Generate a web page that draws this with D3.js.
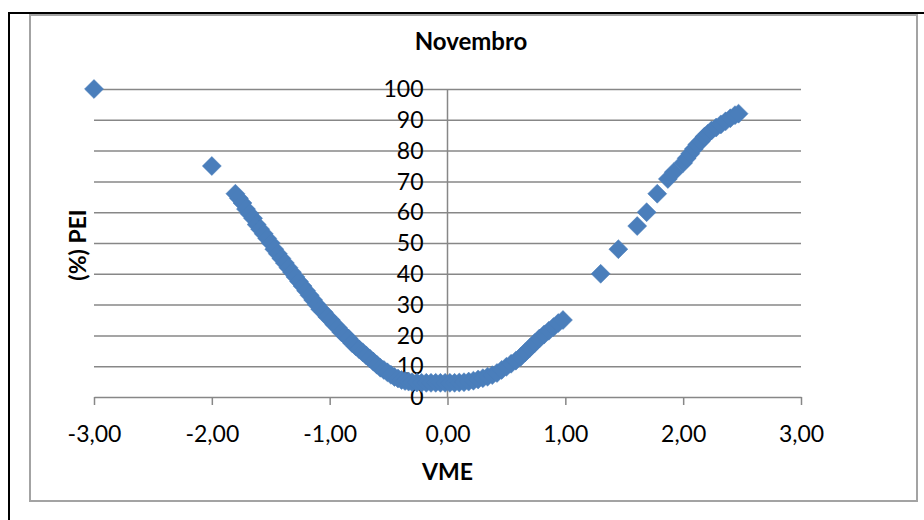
<!DOCTYPE html>
<html>
<head>
<meta charset="utf-8">
<script src="https://cdn.jsdelivr.net/npm/d3@7"></script>
<style>
  body { margin: 0; background: #fff; }
  text { font-family: Lato, "Open Sans", sans-serif; fill: #000; }
</style>
</head>
<body>
<div id="chart"></div>
<script>
// Data (VME on x, (%) PEI on y)
const vme = [
  -3.00, -2.00,
  -1.80, -1.77, -1.74, -1.71, -1.68, -1.65, -1.62, -1.59, -1.56, -1.53, -1.50,
  -1.47, -1.44, -1.41, -1.38, -1.35, -1.32, -1.29, -1.26, -1.23, -1.20, -1.17,
  -1.14, -1.11, -1.08, -1.05, -1.02, -0.99, -0.96, -0.93, -0.90, -0.87, -0.84,
  -0.81, -0.78, -0.75, -0.72, -0.69, -0.66, -0.63, -0.60, -0.57, -0.54, -0.51,
  -0.48, -0.45, -0.42, -0.39, -0.36, -0.33, -0.30, -0.26, -0.22, -0.18, -0.14,
  -0.10, -0.06, -0.02, 0.02, 0.06, 0.10, 0.14, 0.18,
  0.22, 0.26, 0.30, 0.34, 0.38, 0.42, 0.46, 0.50, 0.54, 0.58, 0.62, 0.66, 0.70,
  0.74, 0.78, 0.82, 0.86, 0.90, 0.94, 0.98,
  1.30, 1.45, 1.61, 1.69, 1.78, 1.87, 1.92, 2.00, 2.03, 2.06, 2.09, 2.12, 2.15,
  2.18, 2.21, 2.24, 2.28, 2.32, 2.36, 2.40, 2.44, 2.47
]
const pei = [
  100, 75,
  66, 64.5, 63, 61, 59.5, 58, 56, 54.5, 53, 51.5, 50,
  48, 46.5, 45, 43.5, 42, 40.5, 39, 37.5, 36, 34.5, 33,
  31.5, 30, 28.5, 27.5, 26, 25, 23.5, 22.5, 21, 20, 19,
  17.5, 16.5, 15.5, 14.5, 13.5, 12.5, 11.5, 10.5, 9.5, 8.8, 8,
  7.2, 6.5, 6, 5.5, 5.2, 5, 4.8, 4.7, 4.6, 4.6, 4.6,
  4.6, 4.6, 4.6, 4.6, 4.6, 4.7, 4.8, 5,
  5.3, 5.7, 6.1, 6.6, 7.1, 7.8, 8.8, 9.8, 10.8, 11.8, 13, 14.5, 16,
  17.5, 19, 20.3, 21.5, 22.7, 24, 25,
  40, 48, 55.5, 60, 66, 70.8, 73, 76, 77.5, 79, 80.5, 82, 83,
  84.5, 85.5, 86.5, 87.5, 88.5, 89.5, 90.5, 91.5, 92
]
const xTicks = [-3, -2, -1, 0, 1, 2, 3]
const yTicks = [0, 10, 20, 30, 40, 50, 60, 70, 80, 90, 100]
const title = 'Novembro'
const xTitle = 'VME'
const yTitle = '(%) PEI'

const points = vme.map((v, i) => ({ x: v, y: pei[i] }))

// Vars for dimensions
const width = 924
const height = 520
const plot = { left: 94, right: 801, top: 89, bottom: 397 }

// Portuguese style numbers: comma decimal, plain hyphen for minus
const ptLocale = d3.formatLocale({
  decimal: ',', thousands: '.', grouping: [3], currency: ['R$', ''], minus: '-'
})

const svg = d3.select('#chart')
  .append('svg')
  .attr('width', width)
  .attr('height', height)

// Outer frame: black corner line and grey chart border
svg.append('path')
  .attr('d', `M9,${height} V13 H${width}`)
  .attr('fill', 'none')
  .attr('stroke', '#000')
  .attr('stroke-width', 2)

svg.append('rect')
  .attr('x', 30)
  .attr('y', 15)
  .attr('width', 887)
  .attr('height', 486)
  .attr('fill', '#fff')
  .attr('stroke', '#a3a3a3')
  .attr('stroke-width', 2)

// Scales
const x = d3.scaleLinear().domain([-3, 3]).range([plot.left, plot.right])
const y = d3.scaleLinear().domain([0, 100]).range([plot.bottom, plot.top])

// Horizontal gridlines
svg.append('g')
  .attr('transform', `translate(${plot.left}, 0)`)
  .call(
    d3.axisLeft(y)
      .tickValues(yTicks.filter(d => d > 0))
      .tickSize(-(plot.right - plot.left))
      .tickFormat('')
  )
  .call(g => g.select('.domain').remove())
  .call(g => g.selectAll('line').attr('stroke', '#878787').attr('stroke-width', 1.5))

// Vertical axis line at x = 0
svg.append('line')
  .attr('x1', x(0)).attr('x2', x(0))
  .attr('y1', y(100)).attr('y2', y(0))
  .attr('stroke', '#878787')
  .attr('stroke-width', 1.5)

// Bottom axis
svg.append('g')
  .attr('transform', `translate(0, ${plot.bottom})`)
  .call(
    d3.axisBottom(x)
      .tickValues(xTicks)
      .tickSize(8)
      .tickSizeOuter(0)
      .tickPadding(21)
      .tickFormat(ptLocale.format('.2f'))
  )
  .call(g => g.select('.domain').attr('stroke', '#878787').attr('stroke-width', 1.5))
  .call(g => g.selectAll('line').attr('stroke', '#878787').attr('stroke-width', 1.5))
  .call(g => g.selectAll('text')
    .attr('font-size', 23)
    .attr('font-family', 'Lato, sans-serif')
    .attr('fill', '#000'))

// Left tick labels, sitting next to the axis at x = 0
svg.append('g')
  .selectAll('text')
  .data(yTicks)
  .join('text')
  .attr('x', x(0) - 24)
  .attr('y', d => y(d))
  .attr('dy', '0.36em')
  .attr('text-anchor', 'end')
  .attr('font-size', 23)
  .text(d => d)

// Markers
const diamond = d3.symbol().type(d3.symbolSquare).size(180)
svg.append('g')
  .selectAll('path')
  .data(points)
  .join('path')
  .attr('transform', d => `translate(${x(d.x)}, ${y(d.y)}) rotate(45)`)
  .attr('d', diamond)
  .attr('fill', '#4a7ebb')
  .attr('stroke', '#4a7ebb')
  .attr('stroke-width', 0.5)

// Titles
svg.append('text')
  .attr('x', 471)
  .attr('y', 50)
  .attr('text-anchor', 'middle')
  .attr('font-size', 24)
  .attr('font-weight', 'bold')
  .text(title)

svg.append('text')
  .attr('x', x(0))
  .attr('y', 480)
  .attr('text-anchor', 'middle')
  .attr('font-size', 23)
  .attr('font-weight', 'bold')
  .text(xTitle)

svg.append('text')
  .attr('transform', 'translate(86, 245) rotate(-90)')
  .attr('text-anchor', 'middle')
  .attr('font-size', 23)
  .attr('font-weight', 'bold')
  .text(yTitle)
</script>
</body>
</html>
